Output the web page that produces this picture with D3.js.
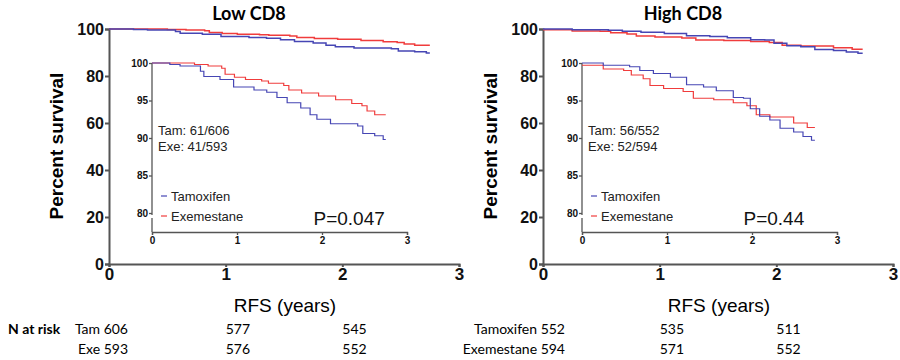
<!DOCTYPE html>
<meta charset="utf-8">
<style>
  body { margin: 0; background: #fff; }
  svg { display: block; }
  .tick text { font-family: "Liberation Sans", Arial, sans-serif; font-weight: bold; fill: #111; }
  .axis path, .axis line { stroke: #555; }
</style>
<script src="https://d3js.org/d3.v7.min.js"></script>
<body>
<script>

// Kaplan-Meier steps: [years, percent surviving]
var lowTam = [[0,100],[0.21,99.8],[0.33,99.6],[0.57,98.9],[0.61,98.2],[0.80,97.8],[0.96,96.8],[1.2,96.4],[1.35,96.1],[1.47,95.4],[1.59,94.7],[1.75,94.0],[1.86,93.1],[1.94,92.5],[2.1,91.9],[2.42,91.6],[2.48,90.6],[2.62,90.3],[2.72,89.8],[2.75,89.8]];
var lowExe = [[0,100],[0.5,99.8],[0.66,99.6],[0.82,99.3],[0.86,98.5],[0.97,98.1],[1.1,97.8],[1.29,97.6],[1.37,97.3],[1.55,97.0],[1.61,96.4],[1.76,96.0],[1.96,95.6],[2.16,95.1],[2.35,94.6],[2.47,94.3],[2.53,93.6],[2.62,93.1],[2.75,93.1]];
var highTam = [[0,100],[0.25,99.7],[0.56,99.5],[0.68,99.0],[0.84,98.6],[1.04,98.1],[1.23,97.1],[1.43,96.8],[1.58,96.3],[1.78,95.4],[1.9,95.3],[1.98,93.9],[2.09,92.9],[2.21,92.4],[2.33,91.3],[2.49,90.8],[2.6,90.2],[2.7,89.7],[2.74,89.7]];
var highExe = [[0,99.7],[0.25,99.2],[0.49,99.0],[0.58,98.4],[0.72,97.9],[0.8,97.0],[0.96,96.6],[1.19,96.2],[1.31,95.3],[1.55,95.1],[1.78,94.7],[1.94,94.3],[2.05,93.1],[2.21,92.8],[2.49,92.0],[2.65,91.4],[2.74,91.4]];

var mainYTicks = [0, 20, 40, 60, 80, 100];
var insetYTicks = [80, 85, 90, 95, 100];
var xTicks = [0, 1, 2, 3];

var lowRisk = { labels: ["Tam 606", "Exe 593"], at1: ["577", "576"], at2: ["545", "552"] };
var highRisk = { labels: ["Tamoxifen 552", "Exemestane 594"], at1: ["535", "571"], at2: ["511", "552"] };

var BLUE = "#4646b4", RED = "#f03c3c";
var fmt = d3.format("d");

var svg = d3.select("body").append("svg").attr("width", 900).attr("height", 360);

function drawPanel(c) {
  var g = svg.append("g");

  // main chart
  var x = d3.scaleLinear().domain([0, 3]).range([c.left, c.left + 350]);
  var y = d3.scaleLinear().domain([0, 100]).range([264, 29]);

  g.append("g").attr("class", "axis")
      .attr("transform", "translate(" + c.left + ",0)")
      .call(d3.axisLeft(y).tickValues(mainYTicks).tickFormat(fmt).tickSize(4).tickPadding(1))
      .call(function(a) {
        a.selectAll("text").style("font-size", "16px");
        a.selectAll("path,line").attr("stroke-width", 2);
      });
  g.append("g").attr("class", "axis")
      .attr("transform", "translate(0,264)")
      .call(d3.axisBottom(x).tickValues(xTicks).tickFormat(fmt).tickSize(3).tickPadding(1))
      .call(function(a) {
        a.selectAll("text").style("font-size", "17px");
        a.selectAll("path,line").attr("stroke-width", 2);
      });

  var line = d3.line().curve(d3.curveStepAfter)
      .x(function(d) { return x(d[0]); })
      .y(function(d) { return y(d[1]); });

  g.append("path").datum(c.exe).attr("d", line)
      .attr("fill", "none").attr("stroke", RED).attr("stroke-width", 1.5);
  g.append("path").datum(c.tam).attr("d", line)
      .attr("fill", "none").attr("stroke", BLUE).attr("stroke-width", 1.5);

  g.append("text")
      .attr("x", (x(0) + x(3)) / 2 - 35).attr("y", 20)
      .attr("text-anchor", "middle")
      .style("font-family", "Lato, 'Open Sans', sans-serif")
      .style("font-weight", "bold").style("font-size", "18px")
      .text(c.title);

  g.append("text")
      .attr("transform", "translate(" + (c.left - 46) + ",146) rotate(-90)")
      .attr("text-anchor", "middle")
      .style("font-family", "'Liberation Sans', Arial, sans-serif")
      .style("font-weight", "bold").style("font-size", "19px")
      .text("Percent survival");

  g.append("text")
      .attr("x", c.left + 176).attr("y", 312)
      .attr("text-anchor", "middle")
      .style("font-family", "'Liberation Sans', Arial, sans-serif")
      .style("font-size", "19px")
      .text("RFS (years)");

  // inset
  var ix = d3.scaleLinear().domain([0, 3]).range([c.inLeft, c.inLeft + 255]);
  var iy = d3.scaleLinear().domain([80, 100]).range([213, 63]);
  var ib = 232;

  g.append("g").attr("class", "axis")
      .attr("transform", "translate(" + c.inLeft + ",0)")
      .call(d3.axisLeft(iy).tickValues(insetYTicks).tickFormat(fmt).tickSize(3).tickPadding(1))
      .call(function(a) {
        a.selectAll("text").style("font-size", "10px");
        a.selectAll("path,line").attr("stroke-width", 1.3);
        a.select(".domain").attr("d", "M0," + iy(100) + "V" + (iy(80) + 2));
      });
  // axis break below 80
  g.append("line")
      .attr("x1", c.inLeft).attr("x2", c.inLeft)
      .attr("y1", iy(80) + 5).attr("y2", ib)
      .attr("stroke", "#555").attr("stroke-width", 1.3);

  g.append("g").attr("class", "axis")
      .attr("transform", "translate(0," + ib + ")")
      .call(d3.axisBottom(ix).tickValues(xTicks).tickFormat(fmt).tickSize(3).tickPadding(2))
      .call(function(a) {
        a.selectAll("text").style("font-size", "10px");
        a.selectAll("path,line").attr("stroke-width", 1.3);
      });

  var iline = d3.line().curve(d3.curveStepAfter)
      .x(function(d) { return ix(d[0]); })
      .y(function(d) { return iy(d[1]); });

  g.append("path").datum(c.exe).attr("d", iline)
      .attr("fill", "none").attr("stroke", RED).attr("stroke-width", 1.2);
  g.append("path").datum(c.tam).attr("d", iline)
      .attr("fill", "none").attr("stroke", BLUE).attr("stroke-width", 1.2);

  var sans = "'Liberation Sans', Arial, sans-serif";
  c.events.forEach(function(t, i) {
    g.append("text")
        .attr("x", c.inLeft + 6).attr("y", 135 + i * 16)
        .style("font-family", sans).style("font-size", "13px").attr("fill", "#222")
        .text(t);
  });

  [["Tamoxifen", BLUE], ["Exemestane", RED]].forEach(function(d, i) {
    var ly = 196 + i * 20;
    g.append("line")
        .attr("x1", c.inLeft + 9).attr("x2", c.inLeft + 15)
        .attr("y1", ly).attr("y2", ly)
        .attr("stroke", d[1]).attr("stroke-width", 1.2);
    g.append("text")
        .attr("x", c.inLeft + 19).attr("y", ly + 5)
        .style("font-family", sans).style("font-size", "13px").attr("fill", "#222")
        .text(d[0]);
  });

  g.append("text")
      .attr("x", ix(1.9)).attr("y", 225)
      .style("font-family", sans).style("font-size", "19px").attr("fill", "#111")
      .text(c.p);

  // numbers at risk
  var cal = "Lato, 'Open Sans', sans-serif";
  c.risk.labels.forEach(function(t, i) {
    var ry = 334 + i * 20;
    g.append("text").attr("x", c.riskRight).attr("y", ry)
        .attr("text-anchor", "end")
        .style("font-family", cal).style("font-size", "14px").text(t);
    g.append("text").attr("x", x(1)).attr("y", ry)
        .style("font-family", cal).style("font-size", "14px").text(c.risk.at1[i]);
    g.append("text").attr("x", x(2)).attr("y", ry)
        .style("font-family", cal).style("font-size", "14px").text(c.risk.at2[i]);
  });
}

svg.append("text")
    .attr("x", 8).attr("y", 334)
    .style("font-family", "Lato, 'Open Sans', sans-serif")
    .style("font-weight", "bold").style("font-size", "14px")
    .text("N at risk");

drawPanel({ title: "Low CD8", left: 109, inLeft: 152, tam: lowTam, exe: lowExe,
  events: ["Tam: 61/606", "Exe: 41/593"], p: "P=0.047", risk: lowRisk, riskRight: 128 });
drawPanel({ title: "High CD8", left: 543, inLeft: 582, tam: highTam, exe: highExe,
  events: ["Tam: 56/552", "Exe: 52/594"], p: "P=0.44", risk: highRisk, riskRight: 565 });

</script>
</body>
